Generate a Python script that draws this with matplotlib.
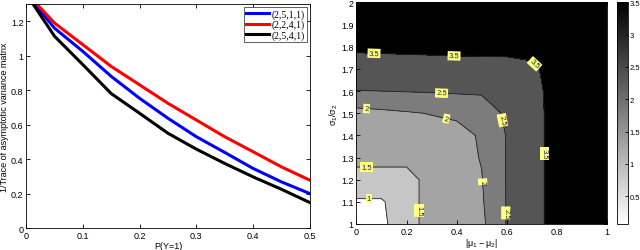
import numpy as np
import matplotlib
matplotlib.use("Agg")
from matplotlib import pyplot as plt
from matplotlib import colors as mcolors
from matplotlib import cm

plt.rcParams['font.family'] = ['Liberation Sans', 'DejaVu Sans']
plt.rcParams['font.size'] = 6.5
plt.rcParams['mathtext.default'] = 'regular'
plt.rcParams['xtick.direction'] = 'in'
plt.rcParams['ytick.direction'] = 'in'

# ---- left panel data: 1/trace of asymptotic variance vs P(Y=1)
p_y1 = [0.01, 0.05, 0.1, 0.15, 0.2, 0.25, 0.3, 0.35, 0.4, 0.45, 0.5]
trace_2511 = [1.32, 1.16, 1.025, 0.88, 0.753, 0.637, 0.53, 0.439, 0.346, 0.268, 0.2]
trace_2241 = [1.33, 1.19, 1.064, 0.938, 0.831, 0.724, 0.627, 0.53, 0.443, 0.355, 0.278]
trace_2541 = [1.31, 1.113, 0.948, 0.78, 0.666, 0.55, 0.458, 0.375, 0.297, 0.225, 0.148]
series_labels = ['(2,5,1,1)', '(2,2,4,1)', '(2,5,4,1)']
series_colors = ['#0000ff', '#ff0000', '#000000']

# ---- right panel data: contour grid over |mu1-mu2| and sigma1/sigma2
mu_diff = [0.0, 0.1, 0.2, 0.3, 0.4, 0.5, 0.6, 0.7, 0.8, 0.9, 1.0]
sigma_ratio = [1.0, 1.1, 1.2, 1.3, 1.4, 1.5, 1.6, 1.7, 1.8, 1.9, 2.0]
z_grid = [
    [0.50, 0.90, 1.30, 1.70, 1.85, 1.90, 2.52, 3.10, 3.90, 4.50, 5.00],
    [0.95, 0.95, 1.30, 1.70, 1.85, 1.95, 2.52, 3.10, 3.90, 4.50, 5.00],
    [1.30, 1.30, 1.30, 1.70, 1.85, 1.98, 2.52, 3.10, 3.90, 4.50, 5.00],
    [1.65, 1.65, 1.65, 1.72, 1.85, 2.02, 2.52, 3.10, 3.90, 4.50, 5.00],
    [1.80, 1.80, 1.80, 1.80, 1.85, 2.05, 2.52, 3.10, 3.90, 4.50, 5.00],
    [1.85, 1.90, 1.96, 2.02, 2.08, 2.15, 2.60, 3.10, 3.90, 4.50, 5.00],
    [2.48, 2.50, 2.52, 2.54, 2.56, 2.58, 2.70, 3.15, 3.90, 4.50, 5.00],
    [3.10, 3.12, 3.14, 3.16, 3.18, 3.19, 3.20, 3.30, 3.95, 4.50, 5.00],
    [3.65, 3.67, 3.69, 3.71, 3.73, 3.74, 3.75, 3.85, 4.10, 4.60, 5.00],
    [4.30, 4.30, 4.30, 4.30, 4.30, 4.30, 4.30, 4.40, 4.50, 4.70, 5.00],
    [5.00, 5.00, 5.00, 5.00, 5.00, 5.00, 5.00, 5.00, 5.00, 5.00, 5.00],
]
contour_levels = [1, 1.5, 2, 2.5, 3.5]
band_colors = ['#ffffff', '#c6c6c6', '#a4a4a4', '#7c7c7c', '#555555', '#000000']
label_spots = [(0.07, 1.77), (0.39, 1.76), (0.70, 1.71), (0.745, 1.32),
               (0.34, 1.59), (0.59, 1.47), (0.595, 1.05),
               (0.04, 1.52), (0.36, 1.48), (0.49, 1.19),
               (0.04, 1.26), (0.245, 1.06), (0.05, 1.12)]

fig = plt.figure(figsize=(6.4, 2.51), dpi=100)

# left panel
ax1 = fig.add_axes([0.041, 0.0876, 0.443, 0.892])
for vals, lab, col in zip([trace_2511, trace_2241, trace_2541], series_labels, series_colors):
    ax1.plot(p_y1, vals, color=col, lw=2.2, label=lab)
ax1.set_xlim(0, 0.5)
ax1.set_ylim(0, 1.3)
ax1.set_xticks([0, 0.1, 0.2, 0.3, 0.4, 0.5])
ax1.set_xticklabels(['0', '0.1', '0.2', '0.3', '0.4', '0.5'])
ax1.set_yticks([0, 0.2, 0.4, 0.6, 0.8, 1.0, 1.2])
ax1.set_yticklabels(['0', '0.2', '0.4', '0.6', '0.8', '1', '1.2'])
ax1.tick_params(top=True, right=True, length=3, width=0.6, pad=2)
ax1.set_xlabel('P(Y=1)', labelpad=1)
ax1.set_ylabel('1/Trace of asymptotic variance matrix', labelpad=1)
leg = ax1.legend(loc='upper right', prop={'family': 'Liberation Serif', 'size': 7},
                 handlelength=2.3, handletextpad=0.3, borderpad=0.2,
                 labelspacing=0.1, borderaxespad=0.3, fancybox=False,
                 edgecolor='#444444', framealpha=1)
leg.get_frame().set_linewidth(0.6)
for s in ax1.spines.values():
    s.set_linewidth(0.6)

# right panel
ax2 = fig.add_axes([0.557, 0.1036, 0.391, 0.883])
X, Y = np.meshgrid(mu_diff, sigma_ratio)
Z = np.array(z_grid)
fill_levels = [Z.min() - 1] + contour_levels + [Z.max() + 1]
ax2.contourf(X, Y, Z, levels=fill_levels, colors=band_colors)
cs = ax2.contour(X, Y, Z, levels=contour_levels, colors='#222222', linewidths=0.6)
texts = ax2.clabel(cs, fmt='%g', fontsize=5.5, manual=label_spots, inline=False)
for t in texts:
    t.set_bbox(dict(facecolor='#ffff88', edgecolor='none', pad=0.8))
    t.set_zorder(5)
ax2.set_xlim(0, 1)
ax2.set_ylim(1, 2)
ax2.set_xticks([0, 0.2, 0.4, 0.6, 0.8, 1])
ax2.set_xticklabels(['0', '0.2', '0.4', '0.6', '0.8', '1'])
ax2.set_yticks([1, 1.1, 1.2, 1.3, 1.4, 1.5, 1.6, 1.7, 1.8, 1.9, 2])
ax2.set_yticklabels(['1', '1.1', '1.2', '1.3', '1.4', '1.5', '1.6', '1.7', '1.8', '1.9', '2'])
ax2.tick_params(top=True, right=True, length=3, width=0.6, pad=2)
ax2.set_xlabel(r'$|\mu_1-\mu_2|$', labelpad=0)
ax2.set_ylabel(r'$\sigma_1/\sigma_2$', labelpad=1)
for s in ax2.spines.values():
    s.set_linewidth(0.6)

# colorbar
cax = fig.add_axes([0.9636, 0.1036, 0.0177, 0.883])
sm = cm.ScalarMappable(norm=mcolors.Normalize(0.07, 3.5), cmap='gray_r')
cb = fig.colorbar(sm, cax=cax)
cb.set_ticks([0.5, 1, 1.5, 2, 2.5, 3, 3.5])
cb.set_ticklabels(['0.5', '1', '1.5', '2', '2.5', '3', '3.5'])
cb.ax.tick_params(length=2, width=0.6, pad=1, labelsize=5.5)
cb.outline.set_linewidth(0.6)

fig.savefig('out.png', dpi=100)
